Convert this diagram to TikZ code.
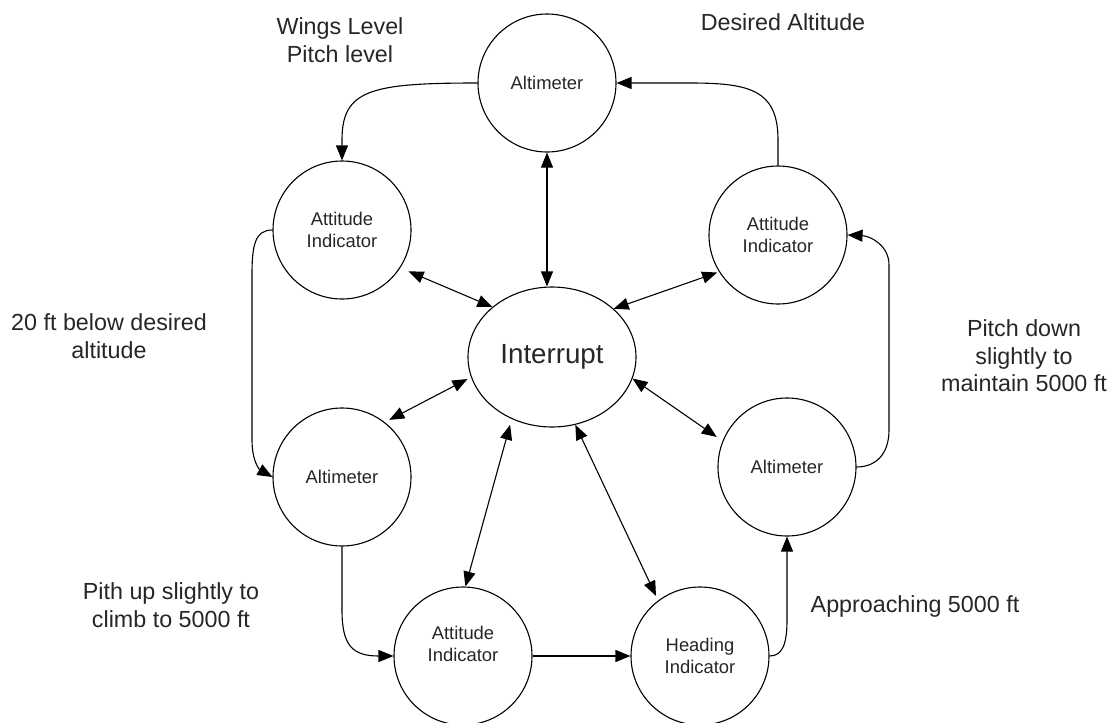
\documentclass[tikz,border=0pt]{standalone}
\usepackage{fontspec}
\setmainfont{Liberation Sans}
\usetikzlibrary{arrows.meta,shapes.geometric}
\begin{document}
\begin{tikzpicture}[x=1pt,y=-1pt,
  circ/.style={circle,draw,line width=1.1pt,minimum size=138pt,inner sep=0pt,align=center,font=\fontsize{18.4}{22}\selectfont,text=black!85},
  intrnode/.style={ellipse,draw,line width=1.1pt,minimum width=168pt,minimum height=140pt,inner sep=0pt,font=\fontsize{27.7}{32}\selectfont,text=black!85},
  lbl/.style={align=center,font=\fontsize{23.3}{27.5}\selectfont,text=black!85},
  flow/.style={line width=1.1pt,-{Triangle[length=15pt,width=12pt]}},
  bi/.style={line width=1.1pt,{Triangle[length=15pt,width=12pt]}-{Triangle[length=15pt,width=12pt]}}]
\useasboundingbox (0,0) rectangle (1112,723);

% nodes
\node[circ] (alt1) at (547,83) {Altimeter};
\node[circ] (att1) at (342,230) {Attitude\\Indicator};
\node[circ] (att2) at (778,235) {Attitude\\Indicator};
\node[intrnode] (intr) at (552,357) {Interrupt};
\node[circ] (alt2) at (342,477) {Altimeter};
\node[circ] (alt3) at (787,467) {Altimeter};
\node[circ,label={[align=center,font=\fontsize{18.4}{22}\selectfont,text=black!85,yshift=12pt]center:Attitude\\Indicator}] (att3) at (463,656) {};
\node[circ] (hd) at (700,656) {Heading\\Indicator};

% free labels
\node[lbl] (l1) at (340,40) {Wings Level\\Pitch level};
\node[lbl] (l2) at (783,22) {Desired Altitude};
\node[lbl] (l3) at (109,336) {20 ft below desired\\altitude};
\node[lbl] (l4) at (1024,356) {Pitch down\\slightly to\\maintain 5000 ft};
\node[lbl] (l5) at (171,605) {Pith up slightly to\\climb to 5000 ft};
\node[lbl] (l6) at (915,606) {Approaching 5000 ft};

% cycle connectors
\draw[flow] (alt1.west) .. controls (370,83) and (342,90) .. (342,140) -- (att1.north);
\draw[flow] (att1.west) .. controls (255,230) and (252,245) .. (252,275) -- (252,440) .. controls (252,462) and (260,470) .. (alt2.west);
\draw[flow] (alt2.south) -- (342,610) .. controls (342,645) and (352,656) .. (att3.west);
\draw[flow] (att3.east) -- (hd.west);
\draw[flow] (hd.east) .. controls (782,656) and (787,645) .. (787,620) -- (alt3.south);
\draw[flow] (alt3.east) .. controls (875,467) and (889,455) .. (889,430) -- (889,265) .. controls (889,245) and (870,236) .. (att2.east);
\draw[flow] (att2.north) -- (778,140) .. controls (778,90) and (750,83) .. (690,83) -- (alt1.east);

% interrupt connectors
\draw[bi] (alt1.south) -- (alt1.south |- intr.north);
\draw[bi,shorten <=9pt] (att1.-33) -- (intr.140);
\draw[bi,shorten <=2pt] (att2.-148) -- (intr.38);
\draw[bi,shorten <=5pt,shorten >=4pt] (alt2.52) -- (intr.194);
\draw[bi,shorten <=7pt] (alt3.158) -- (intr.-15);
\draw[bi,shorten >=6pt] (att3.88) -- (intr.237);
\draw[bi,shorten <=5pt] (hd.127) -- (intr.-71);
\end{tikzpicture}
\end{document}
